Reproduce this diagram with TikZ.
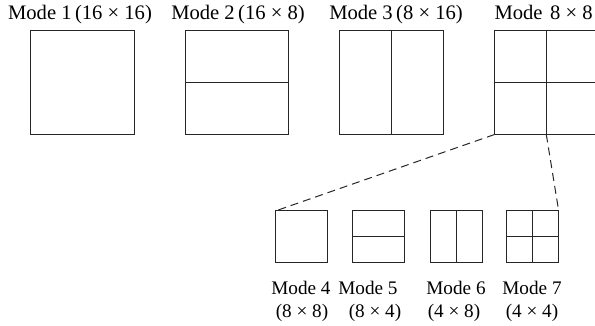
\documentclass[tikz,border=0pt]{standalone}
\usepackage{fontspec}
\setmainfont{Liberation Serif}
\begin{document}
\begin{tikzpicture}[x=1pt,y=-1pt,
  line width=1pt,
  bigbox/.style={draw=black!85, minimum width=103.5pt, minimum height=103.5pt, inner sep=0pt, outer sep=0pt},
  smallbox/.style={draw=black!85, minimum width=52pt, minimum height=51.5pt, inner sep=0pt, outer sep=0pt},
  divider/.style={draw=black!85},
  zoomline/.style={draw=black!85, dashed, dash pattern=on 8pt off 5pt},
  toplabel/.style={font=\fontsize{20.6}{24}\selectfont, inner sep=0pt, anchor=base},
  botlabel/.style={font=\fontsize{19.2}{23}\selectfont, inner sep=0pt, anchor=base}]
\clip (0,0) rectangle (595,326);
\useasboundingbox (0,0) rectangle (595,326);
% big boxes
\node[bigbox] (b1) at (82.25,82.75) {};
\node[bigbox] (b2) at (237,82.75) {};
\node[bigbox] (b3) at (391.7,82.75) {};
\node[bigbox] (b4) at (546.3,82.75) {};
\draw[divider] (b2.west) -- (b2.east);
\draw[divider] (b3.north) -- (b3.south);
\draw[divider] (b4.west) -- (b4.east);
\draw[divider] (b4.north) -- (b4.south);
% small boxes
\node[smallbox] (s4) at (301.5,236.7) {};
\node[smallbox] (s5) at (378.3,236.7) {};
\node[smallbox] (s6) at (456,236.7) {};
\node[smallbox] (s7) at (532.7,236.7) {};
\draw[divider] (s5.west) -- (s5.east);
\draw[divider] (s6.north) -- (s6.south);
\draw[divider] (s7.west) -- (s7.east);
\draw[divider] (s7.north) -- (s7.south);
% zoom lines
\draw[zoomline] (b4.south west) -- (s4.north west);
\draw[zoomline] (b4.south) -- (s7.north east);
% top labels
\node[toplabel] (l1) at (80,20) {Mode 1\,(16 × 16)};
\node[toplabel] (l2) at (238,20) {Mode 2\,(16 × 8)};
\node[toplabel] (l3) at (396,20) {Mode 3\,(8 × 16)};
\node[toplabel, anchor=base west] (l4) at (494,20) {Mode\hspace{7.5pt}8 × 8};
% bottom labels
\node[botlabel] (m4) at (301,294.3) {Mode 4};
\node[botlabel] (d4) at (302,317) {(8 × 8)};
\node[botlabel] (m5) at (368,294.3) {Mode 5};
\node[botlabel] (d5) at (375,317) {(8 × 4)};
\node[botlabel] (m6) at (456,294.3) {Mode 6};
\node[botlabel] (d6) at (454,317) {(4 × 8)};
\node[botlabel] (m7) at (532,294.3) {Mode 7};
\node[botlabel] (d7) at (532,317) {(4 × 4)};
\end{tikzpicture}
\end{document}
